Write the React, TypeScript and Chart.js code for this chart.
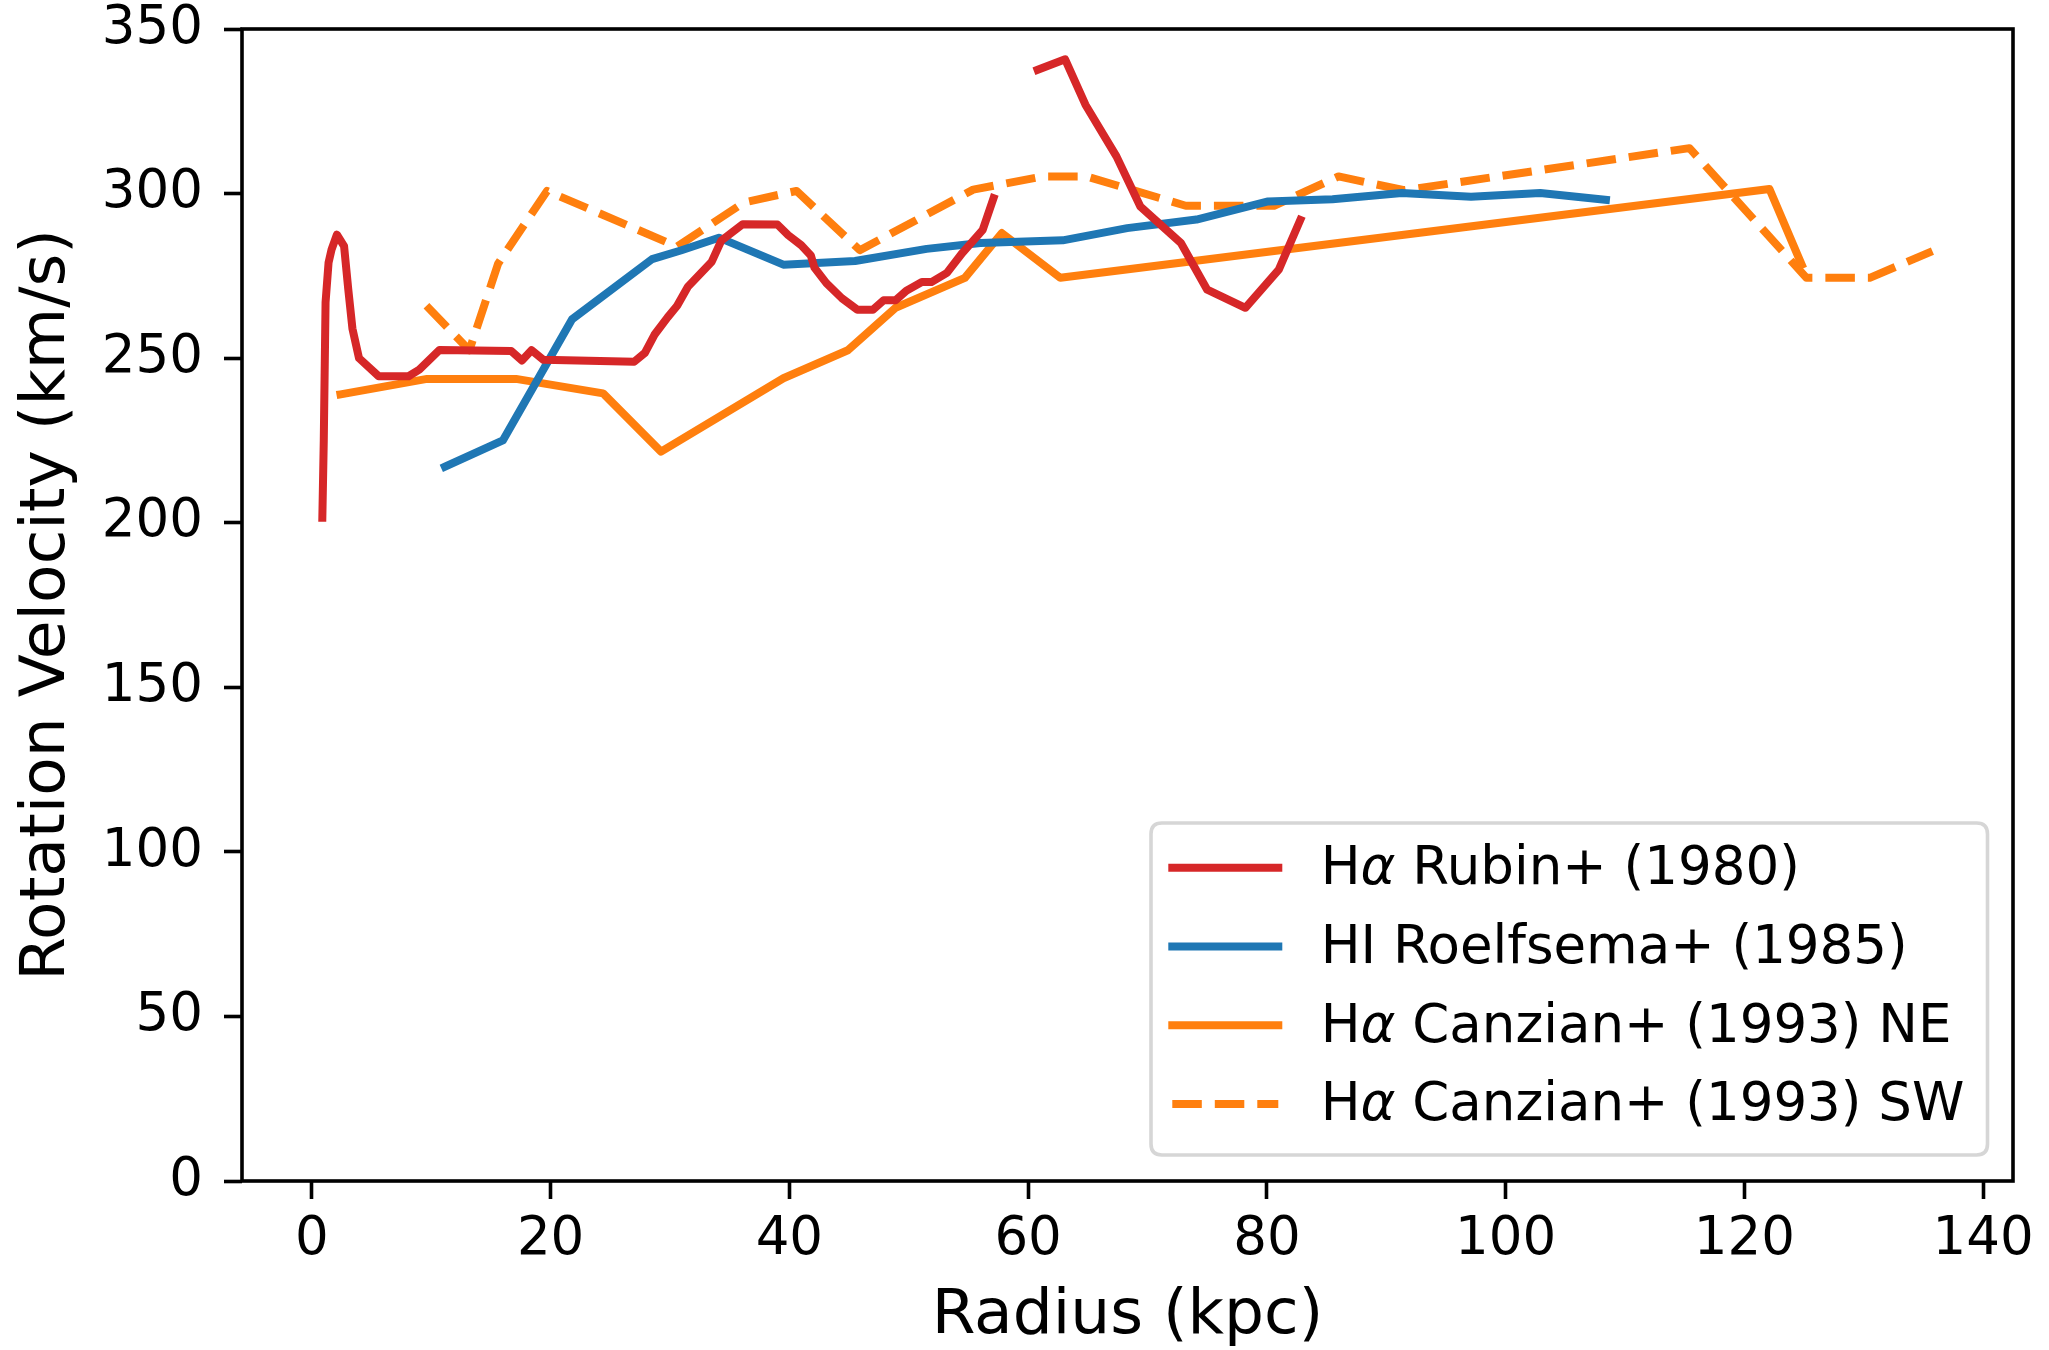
import React, { useEffect, useRef } from 'react';
import { Chart, registerables } from 'chart.js';

Chart.register(...registerables);

const FONT = '"DejaVu Sans", "Liberation Sans", sans-serif';

const xTickValues = [0, 20, 40, 60, 80, 100, 120, 140];
const yTickValues = [0, 50, 100, 150, 200, 250, 300, 350];

const seriesLabels = [
  'Hα Rubin+ (1980)',
  'HI Roelfsema+ (1985)',
  'Hα Canzian+ (1993) NE',
  'Hα Canzian+ (1993) SW',
];

// Hα Rubin+ (1980) — null marks the gap between the two segments
const rubinRadius = [
  0.88, 1.0, 1.15, 1.4, 1.65, 2.1, 2.7, 3.05, 3.4, 3.95, 5.6, 8.1, 9.0, 10.7,
  16.7, 17.6, 18.4, 19.4, 27.0, 27.9, 28.7, 29.8, 30.6, 31.5, 33.5, 34.3, 36.1,
  39.0, 39.9, 41.0, 41.8, 42.1, 43.1, 44.4, 45.7, 47.0, 47.9, 48.9, 49.8, 51.1,
  51.9, 53.2, 54.5, 56.2, 57.1, 59.0, 60.8, 63.1, 64.8, 67.4, 69.4, 72.8, 75.0,
  78.2, 81.0, 82.8,
];
const rubinVelocity = [
  201.5, 225, 267, 279, 283, 287.5, 284, 271, 259, 250, 244.5, 244.5, 246.5, 252.5,
  252.2, 249.3, 252.4, 249.5, 248.9, 251.6, 257.1, 262.4, 265.9, 271.7, 279.3, 285.7, 290.7,
  290.6, 287.4, 284.3, 281.2, 277.5, 272.8, 268.2, 264.7, 264.7, 267.6, 267.6, 270.5, 273.1,
  273.1, 275.9, 282, 289, 298.6, null, 337.6, 340.8, 327, 311.3, 296.1, 285, 270.8,
  265.3, 276.9, 292,
];

// HI Roelfsema+ (1985)
const roelfsemaRadius = [
  11.15, 16.0, 21.8, 28.5, 30.9, 34.1, 39.5, 45.5, 51.5, 56.0, 62.9, 68.3, 74.1,
  80.1, 85.5, 91.3, 97.1, 102.9, 108.4,
];
const roelfsemaVelocity = [
  217, 225, 261.8, 280.1, 282.7, 286.6, 278.4, 279.5, 283.2, 285, 285.8, 289.5, 292.1,
  297.6, 298.3, 300.2, 299, 300.2, 298.1,
];

// Hα Canzian+ (1993) NE
const canzianNERadius = [2.4, 9.65, 17.1, 24.4, 29.25, 39.5, 44.9, 48.9, 54.7, 57.8, 62.7, 122.1, 124.8];
const canzianNEVelocity = [239, 243.7, 243.7, 239.3, 221.6, 243.9, 252.4, 265.3, 274.4, 288, 274.4, 301.4, 278.4];

// Hα Canzian+ (1993) SW
const canzianSWRadius = [
  9.6, 13.2, 15.6, 19.7, 30.6, 36.2, 40.6, 45.9, 55.4, 61.2, 64.9, 73.2, 80.6, 86.0,
  91.5, 115.4, 125.2, 130.5, 135.75,
];
const canzianSWVelocity = [
  265.9, 252.4, 278.7, 300.8, 283.9, 297.3, 300.8, 282.8, 301.2, 305.2, 305.2, 296.3, 296.3, 305.2,
  301, 313.8, 274.4, 274.4, 282.5,
];

const COLORS = ['#d62728', '#1f77b4', '#ff7f0e', '#ff7f0e'];

function toPoints(xs: number[], ys: (number | null)[]) {
  return xs.map((x, i) => ({ x, y: ys[i] }));
}

const framePlugin = {
  id: 'mplFrame',
  afterDatasetsDraw(chart: any) {
    const { ctx, chartArea } = chart;
    ctx.save();
    ctx.strokeStyle = '#000';
    ctx.lineWidth = 3.6;
    ctx.lineJoin = 'miter';
    ctx.setLineDash([]);
    ctx.strokeRect(chartArea.left, chartArea.top, chartArea.right - chartArea.left, chartArea.bottom - chartArea.top);
    ctx.restore();
  },
};

const legendPlugin = {
  id: 'mplLegend',
  afterDraw(chart: any) {
    const ctx = chart.ctx as CanvasRenderingContext2D;
    ctx.save();
    const x0 = 1151, y0 = 823, x1 = 1987.5, y1 = 1155, r = 11;
    ctx.beginPath();
    ctx.moveTo(x0 + r, y0);
    ctx.lineTo(x1 - r, y0);
    ctx.quadraticCurveTo(x1, y0, x1, y0 + r);
    ctx.lineTo(x1, y1 - r);
    ctx.quadraticCurveTo(x1, y1, x1 - r, y1);
    ctx.lineTo(x0 + r, y1);
    ctx.quadraticCurveTo(x0, y1, x0, y1 - r);
    ctx.lineTo(x0, y0 + r);
    ctx.quadraticCurveTo(x0, y0, x0 + r, y0);
    ctx.closePath();
    ctx.fillStyle = 'rgba(255,255,255,0.8)';
    ctx.fill();
    ctx.strokeStyle = '#d6d6d6';
    ctx.lineWidth = 3.6;
    ctx.stroke();

    const size = 53;
    chart.data.datasets.forEach((ds: any, i: number) => {
      const cy = 867.7 + i * 78.8;
      ctx.beginPath();
      ctx.strokeStyle = ds.borderColor;
      ctx.lineWidth = ds.borderWidth;
      const dashed = ds.borderDash && ds.borderDash.length > 0;
      ctx.setLineDash(dashed ? ds.borderDash : []);
      ctx.lineCap = dashed ? 'butt' : 'square';
      ctx.moveTo(1172.3, cy);
      ctx.lineTo(1278.3, cy);
      ctx.stroke();
      ctx.setLineDash([]);

      ctx.fillStyle = '#000';
      ctx.textBaseline = 'alphabetic';
      ctx.textAlign = 'left';
      const parts = String(ds.label).split('α');
      let x = 1320.7;
      const y = cy + 16.3;
      parts.forEach((p, k) => {
        if (k > 0) {
          ctx.font = `italic ${size}px ${FONT}`;
          ctx.fillText('α', x, y);
          x += ctx.measureText('α').width;
        }
        ctx.font = `${size}px ${FONT}`;
        ctx.fillText(p, x, y);
        x += ctx.measureText(p).width;
      });
    });
    ctx.restore();
  },
};

export default function App() {
  const ref = useRef<HTMLCanvasElement>(null);
  useEffect(() => {
    const lineBase = {
      borderWidth: 8,
      pointRadius: 0,
      pointHoverRadius: 0,
      fill: false,
      tension: 0,
      borderJoinStyle: 'round' as const,
      spanGaps: false,
    };
    const chart = new Chart(ref.current as HTMLCanvasElement, {
      type: 'line',
      data: {
        datasets: [
          { ...lineBase, label: seriesLabels[0], data: toPoints(rubinRadius, rubinVelocity), borderColor: COLORS[0], borderCapStyle: 'square' },
          { ...lineBase, label: seriesLabels[1], data: toPoints(roelfsemaRadius, roelfsemaVelocity), borderColor: COLORS[1], borderCapStyle: 'square' },
          { ...lineBase, label: seriesLabels[2], data: toPoints(canzianNERadius, canzianNEVelocity), borderColor: COLORS[2], borderCapStyle: 'square' },
          { ...lineBase, label: seriesLabels[3], data: toPoints(canzianSWRadius, canzianSWVelocity), borderColor: COLORS[3], borderCapStyle: 'butt', borderDash: [29.5, 13] },
        ] as any,
      },
      options: {
        animation: false,
        responsive: false,
        devicePixelRatio: 1,
        events: [],
        layout: { padding: { top: 29, right: 36, left: 0, bottom: 0 } },
        plugins: {
          legend: { display: false },
          tooltip: { enabled: false },
          title: { display: false },
        },
        scales: {
          x: {
            type: 'linear',
            min: -5.85,
            max: 142.5,
            afterBuildTicks: (s: any) => { s.ticks = xTickValues.map((v) => ({ value: v })); },
            afterFit: (s: any) => { s.height = 169; s.paddingLeft = 0; s.paddingRight = 0; s.paddingTop = 0; s.paddingBottom = 0; },
            border: { display: false },
            grid: { display: true, drawOnChartArea: false, drawTicks: true, tickLength: 18, tickWidth: 3.6, tickColor: '#000' },
            ticks: { color: '#000', font: { family: FONT, size: 53 }, padding: 9.5, maxRotation: 0, autoSkip: false },
            title: { display: true, text: 'Radius (kpc)', color: '#000', font: { family: FONT, size: 63, lineHeight: 1 }, padding: { top: 0, bottom: 2 } },
          },
          y: {
            type: 'linear',
            min: 0,
            max: 350,
            afterBuildTicks: (s: any) => { s.ticks = yTickValues.map((v) => ({ value: v })); },
            afterFit: (s: any) => { s.width = 242; s.paddingTop = 0; s.paddingBottom = 0; s.paddingLeft = 0; s.paddingRight = 0; },
            border: { display: false },
            grid: { display: true, drawOnChartArea: false, drawTicks: true, tickLength: 18, tickWidth: 3.6, tickColor: '#000' },
            ticks: { color: '#000', font: { family: FONT, size: 53 }, padding: 21, autoSkip: false },
            title: { display: true, text: 'Rotation Velocity (km/s)', color: '#000', font: { family: FONT, size: 63, lineHeight: 1 }, padding: { top: 15.7, bottom: 0 } },
          },
        },
      } as any,
      plugins: [framePlugin, legendPlugin],
    });
    return () => chart.destroy();
  }, []);
  return (
    <div style={{ position: 'fixed', left: 0, top: 0, width: 2049, height: 1350, background: '#fff' }}>
      <canvas ref={ref} width={2049} height={1350} style={{ display: 'block', width: 2049, height: 1350 }} />
    </div>
  );
}
